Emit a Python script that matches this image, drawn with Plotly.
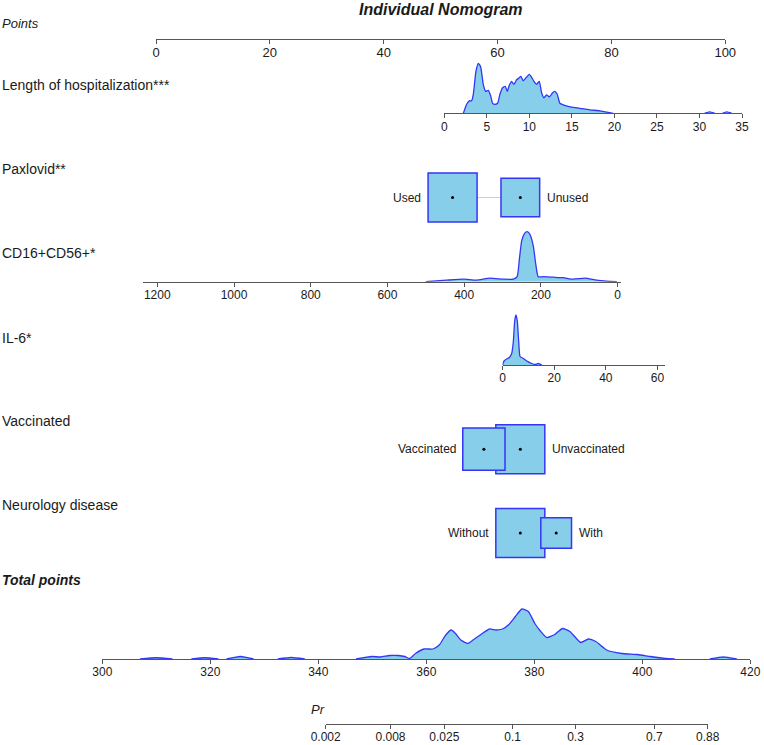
import math
import plotly.graph_objects as go

W, H = 764, 745
FONT = "Liberation Sans, Arial, sans-serif"
TXT = "#1a1a1a"
AXC = "#555555"
SKY = "#87CEEB"
BLUE = "#3535F5"

# ---------------- data ----------------
title_text = "Individual Nomogram"

points_ticks = [0, 20, 40, 60, 80, 100]

los_label = "Length of hospitalization***"
los_ticks = [0, 5, 10, 15, 20, 25, 30, 35]
los_days = [2.24, 2.63, 2.94, 3.21, 3.41, 3.72, 4.00, 4.27, 4.58, 4.86, 5.17, 5.45,
            5.68, 5.95, 6.27, 6.54, 6.86, 7.17, 7.40, 7.64, 7.91, 8.19, 8.50, 8.81,
            9.01, 9.28, 9.60, 9.99, 10.26, 10.54, 10.85, 11.16, 11.44, 11.71, 12.02,
            12.34, 12.73, 13.00, 13.28, 13.59, 13.98, 14.57, 15.16, 15.94, 17.11,
            18.29, 19.27, 19.85, None, 30.6, 31.2, 31.8, None, 32.7, 33.2, 33.8]
los_density = [0, 0.18, 0.25, 0.25, 0.38, 0.84, 1.0, 0.93, 0.58, 0.44, 0.46, 0.35,
               0.20, 0.18, 0.20, 0.38, 0.51, 0.54, 0.44, 0.56, 0.64, 0.58, 0.67, 0.71,
               0.74, 0.65, 0.71, 0.78, 0.72, 0.64, 0.58, 0.64, 0.41, 0.31, 0.37,
               0.33, 0.41, 0.44, 0.38, 0.20, 0.17, 0.14, 0.12, 0.10, 0.07,
               0.05, 0.02, 0, None, 0, 0.03, 0, None, 0, 0.03, 0]

pax_label = "Paxlovid**"
pax_levels = ["Used", "Unused"]
pax_points = [52.1, 64.0]
pax_freq = [0.616, 0.384]

cd16_label = "CD16+CD56+*"
cd16_ticks = [0, 200, 400, 600, 800, 1000, 1200]
cd16_values = [500, 446, 402, 368, 333, 298, 272, 262, 256, 250, 242, 236, 229, 220,
               213, 207, 194, 168, 142, 116, 85, 55, 29, 2]
cd16_density = [0, 0.03, 0.05, 0.03, 0.07, 0.05, 0.05, 0.10, 0.46, 0.82, 0.97, 1.0,
                0.95, 0.72, 0.33, 0.10, 0.10, 0.09, 0.08, 0.05, 0.07, 0.03, 0.01, 0]

il6_label = "IL-6*"
il6_ticks = [0, 20, 40, 60]
il6_values = [0, 0.6, 1.6, 2.65, 3.55, 4.2, 4.7, 5.2, 5.75, 6.27, 6.8, 8.07, 9.4,
              11.3, 12.6, 13.9, 15.2]
il6_density = [0, 0.08, 0.12, 0.15, 0.23, 0.47, 0.87, 1.0, 0.87, 0.47, 0.17, 0.13,
               0.08, 0.03, 0.01, 0.03, 0]

vacc_label = "Vaccinated"
vacc_levels = ["Vaccinated", "Unvaccinated"]
vacc_points = [57.6, 64.0]
vacc_freq = [0.426, 0.574]

neuro_label = "Neurology disease"
neuro_levels = ["Without", "With"]
neuro_points = [64.0, 70.3]
neuro_freq = [0.718, 0.282]

total_label = "Total points"
total_ticks = [300, 320, 340, 360, 380, 400, 420]
total_values = [307, 310, 313, None, 316.5, 319, 321.5, None, 323, 325.6, 328, None,
                332.5, 335, 337.5, None, 347, 349.9, 351.5, 353.2, 354.8, 356.0,
                356.9, 358.0, 359.6, 361.2, 362.4, 363.6, 364.6, 365.4, 366.4, 367.7,
                368.9, 370.1, 371.7, 372.9, 374.1, 375.3, 376.5, 377.7, 378.9, 380.1,
                381.2, 382.3, 383.8, 385.2, 386.6, 388.6, 390.0, 391.4, 393.4, 396.2,
                399.1, 401.5, 404.3, 406, None, 412.5, 415, 417.5]
total_density = [0, 0.025, 0, None, 0, 0.025, 0, None, 0, 0.05, 0, None,
                 0, 0.03, 0, None, 0, 0.05, 0.04, 0.07, 0.07, 0.05,
                 0.01, 0.11, 0.20, 0.20, 0.28, 0.48, 0.58, 0.51, 0.38, 0.31,
                 0.40, 0.49, 0.60, 0.58, 0.60, 0.69, 0.85, 1.0, 0.95, 0.71,
                 0.55, 0.43, 0.49, 0.61, 0.55, 0.33, 0.40, 0.35, 0.18, 0.11,
                 0.09, 0.05, 0.01, 0, None, 0, 0.04, 0]

pr_label = "Pr"
pr_ticks = [0.002, 0.008, 0.025, 0.1, 0.3, 0.7, 0.88]


# ---------------- helpers ----------------
def logit(p):
    return math.log(p / (1 - p))


fig = go.Figure()
layout_axes = {}
annotations = []
counter = [0]

axis_style = dict(showline=True, linecolor=AXC, linewidth=1, ticks="outside",
                  ticklen=4, tickwidth=1, tickcolor=AXC, showgrid=False,
                  zeroline=False, fixedrange=True, tickmode="array",
                  ticklabelstandoff=-2)


def new_axes(x_px, x_range, y_px, y_range, xvisible=True, tickvals=None,
             ticktext=None, tick_size=12):
    counter[0] += 1
    i = counter[0]
    ref = "" if i == 1 else str(i)
    xa = dict(domain=[x_px[0] / W, x_px[1] / W], range=x_range, anchor="y" + ref,
              fixedrange=True, automargin=False)
    if xvisible:
        xa.update(axis_style)
        xa.update(tickvals=tickvals,
                  ticktext=ticktext if ticktext is not None else [str(v) for v in tickvals],
                  tickfont=dict(size=tick_size, color=TXT, family=FONT))
    else:
        xa.update(visible=False, showgrid=False, zeroline=False)
    ya = dict(domain=[1 - y_px[1] / H, 1 - y_px[0] / H], range=y_range, visible=False,
              anchor="x" + ref, fixedrange=True, showgrid=False, zeroline=False,
              automargin=False)
    layout_axes["xaxis" + ref] = xa
    layout_axes["yaxis" + ref] = ya
    return "x" + ref, "y" + ref


def row_label(text, y_px, italic=False, bold=False, size=14, x_px=0):
    t = text
    if bold:
        t = "<b>" + t + "</b>"
    if italic:
        t = "<i>" + t + "</i>"
    annotations.append(dict(text=t, xref="paper", yref="paper", x=x_px / W,
                            y=1 - y_px / H, xanchor="left", yanchor="middle",
                            showarrow=False, font=dict(size=size, color=TXT, family=FONT)))


def density_row(values, dens, x_px, x_range, base_px, ticks):
    xr, yr = new_axes(x_px, x_range, (base_px - 52, base_px), [0, 1.04], True, ticks)
    fig.add_trace(go.Scatter(x=values, y=dens, xaxis=xr, yaxis=yr, mode="lines",
                             line=dict(color=BLUE, width=1.3, shape="spline", smoothing=0.5),
                             fill="tozeroy", fillcolor=SKY, hoverinfo="skip",
                             connectgaps=False))


PTS_PX = (156, 725.25)


def box_row(levels, pts, freq, yc_px, max_side=49):
    xr, yr = new_axes(PTS_PX, [0, 100], (yc_px - 30, yc_px + 30), [-1, 1], False)
    order = sorted(range(len(levels)), key=lambda k: pts[k])
    fig.add_trace(go.Scatter(x=[pts[k] for k in order], y=[0] * len(levels),
                             xaxis=xr, yaxis=yr, mode="lines",
                             line=dict(color="#cfcfcf", width=1), hoverinfo="skip"))
    fmax = max(freq)
    sides = [max_side * math.sqrt(f / fmax) for f in freq]
    for k in sorted(range(len(levels)), key=lambda k: -freq[k]):
        fig.add_trace(go.Scatter(x=[pts[k]], y=[0], xaxis=xr, yaxis=yr, mode="markers",
                                 marker=dict(symbol="square", size=sides[k], color=SKY,
                                             line=dict(color=BLUE, width=1.5)),
                                 hoverinfo="skip"))
    fig.add_trace(go.Scatter(x=pts, y=[0] * len(levels), xaxis=xr, yaxis=yr,
                             mode="markers", marker=dict(size=3, color="black"),
                             hoverinfo="skip"))
    for rank, k in enumerate(order):
        left = rank == 0
        annotations.append(dict(text=levels[k], xref=xr, yref=yr, x=pts[k], y=0,
                                xanchor="right" if left else "left", yanchor="middle",
                                xshift=-(sides[k] / 2 + 5) if left else (sides[k] / 2 + 5),
                                showarrow=False,
                                font=dict(size=12, color=TXT, family=FONT)))


# ---------------- build ----------------
# Points axis
xr, yr = new_axes(PTS_PX, [0, 100], (28.5, 38.5), [0, 1], True, points_ticks, tick_size=13)
fig.add_trace(go.Scatter(x=[], y=[], xaxis=xr, yaxis=yr, hoverinfo="skip"))
row_label("Points", 24, italic=True, size=13)

# Length of hospitalization
density_row(los_days, los_density, (444.3, 742), [0, 35], 113.3, los_ticks)
row_label(los_label, 85)

# Paxlovid
box_row(pax_levels, pax_points, pax_freq, 197.5)
row_label(pax_label, 169)

# CD16+CD56+
density_row(cd16_values, cd16_density, (142.7, 620.7), [1238, -8], 281.7, cd16_ticks)
row_label(cd16_label, 253)

# IL-6
density_row(il6_values, il6_density, (502.5, 665), [0, 62.9], 365, il6_ticks)
row_label(il6_label, 338)

# Vaccinated
box_row(vacc_levels, vacc_points, vacc_freq, 449.2)
row_label(vacc_label, 421)

# Neurology
box_row(neuro_levels, neuro_points, neuro_freq, 533)
row_label(neuro_label, 505)

# Total points
density_row(total_values, total_density, (102.3, 750.3), [300, 420], 659, total_ticks)
row_label(total_label, 580, italic=True, bold=True)

# Pr axis
xr, yr = new_axes((325.7, 707.7), [logit(pr_ticks[0]), logit(pr_ticks[-1])],
                  (714, 724), [0, 1], True, [logit(p) for p in pr_ticks],
                  [f"{p:g}" for p in pr_ticks], tick_size=12)
fig.add_trace(go.Scatter(x=[], y=[], xaxis=xr, yaxis=yr, hoverinfo="skip"))
row_label(pr_label, 709, italic=True, size=13, x_px=309)

# Title
annotations.append(dict(text="<b><i>" + title_text + "</i></b>", xref="paper", yref="paper",
                        x=441 / W, y=1 - 9 / H, xanchor="center", yanchor="middle",
                        showarrow=False, font=dict(size=16, color=TXT, family=FONT)))

fig.update_layout(width=W, height=H, margin=dict(l=0, r=0, t=0, b=0, pad=0),
                  paper_bgcolor="white", plot_bgcolor="rgba(0,0,0,0)",
                  showlegend=False, font=dict(family=FONT, color=TXT),
                  annotations=annotations, **layout_axes)

fig.write_html("out.html", config={"displayModeBar": False, "staticPlot": True},
               post_script="document.body.style.margin='0px';"
                           "document.body.style.overflow='hidden';")
